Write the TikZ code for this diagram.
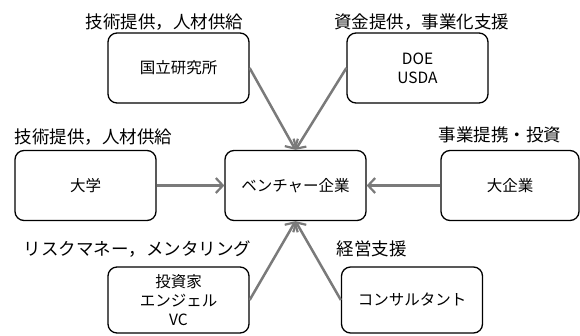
\documentclass[tikz,border=0pt]{standalone}
\usepackage{fontspec}
\setmainfont{Noto Sans CJK JP}
\usetikzlibrary{arrows.meta}
\definecolor{arrowgray}{HTML}{7A7A7A}
\tikzset{
  box/.style={draw=black, line width=1.3pt, rounded corners=9pt, minimum width=141pt, minimum height=70pt, align=center, inner sep=0pt, font=\fontsize{15.5}{19}\selectfont},
  lowbox/.style={box, minimum height=66pt},
  lbl/.style={inner sep=0pt, font=\fontsize{17.5}{20}\selectfont},
  link/.style={draw=arrowgray, line width=2.5pt, -{Straight Barb[length=7pt,width=15pt,line width=2.2pt]}}
}
\begin{document}
\begin{tikzpicture}[x=1pt,y=-1pt]
\useasboundingbox (0,0) rectangle (580,335);
\node[box] (ken) at (178.5,68) {国立研究所};
\node[box] (doe) at (417.5,68) {DOE\\USDA};
\node[box] (univ) at (85.5,185.5) {大学};
\node[box] (vent) at (295.5,185.5) {ベンチャー企業};
\node[box, minimum width=138pt] (corp) at (510,185.5) {大企業};
\node[lowbox] (inv) at (178.5,300) {投資家\\エンジェル\\VC};
\node[lowbox] (cons) at (412,300) {コンサルタント};

\node[lbl] (l1) at (164.5,22) {技術提供，人材供給};
\node[lbl] (l2) at (421.5,22) {資金提供，事業化支援};
\node[lbl] (l3) at (93.5,137) {技術提供，人材供給};
\node[lbl] (l4) at (500,135) {事業提携・投資};
\node[lbl] (l5) at (137.5,249) {リスクマネー，メンタリング};
\node[lbl] (l6) at (371.5,249) {経営支援};

\draw[link] (ken.east) -- (vent.north);
\draw[link] (doe.west) -- (vent.north);
\draw[link] (univ.east) -- (vent.west);
\draw[link] (corp.west) -- (vent.east);
\draw[link] (inv.east) -- (vent.south);
\draw[link] (cons.west) -- (vent.south);
\end{tikzpicture}
\end{document}
